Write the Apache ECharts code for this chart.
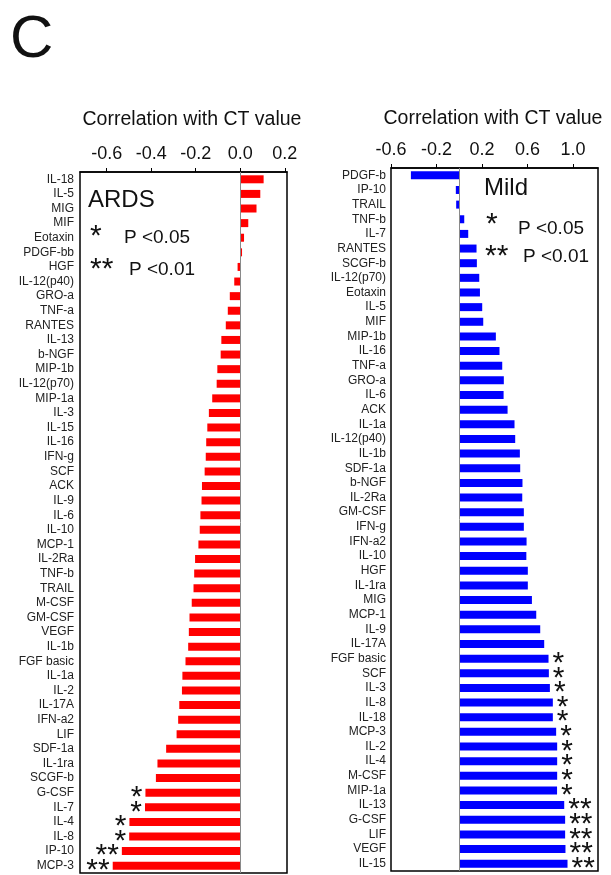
<!DOCTYPE html>
<html><head><meta charset="utf-8">
<script src="https://cdn.jsdelivr.net/npm/echarts@6/dist/echarts.min.js"></script>
<style>html,body{margin:0;padding:0;background:#fff}#c{width:611px;height:875px}</style>
</head><body><div id="c"></div>
<script>
const FONT = '"Liberation Sans", Arial, Helvetica, sans-serif';

const ardsCats = ['IL-18','IL-5','MIG','MIF','Eotaxin','PDGF-bb','HGF','IL-12(p40)','GRO-a','TNF-a','RANTES','IL-13','b-NGF','MIP-1b','IL-12(p70)','MIP-1a','IL-3','IL-15','IL-16','IFN-g','SCF','ACK','IL-9','IL-6','IL-10','MCP-1','IL-2Ra','TNF-b','TRAIL','M-CSF','GM-CSF','VEGF','IL-1b','FGF basic','IL-1a','IL-2','IL-17A','IFN-a2','LIF','SDF-1a','IL-1ra','SCGF-b','G-CSF','IL-7','IL-4','IL-8','IP-10','MCP-3'];
const ardsVals = [0.105,0.09,0.073,0.036,0.017,0.008,-0.012,-0.027,-0.047,-0.056,-0.065,-0.085,-0.088,-0.103,-0.106,-0.126,-0.141,-0.148,-0.153,-0.155,-0.16,-0.172,-0.174,-0.179,-0.182,-0.188,-0.203,-0.207,-0.21,-0.218,-0.228,-0.231,-0.234,-0.246,-0.26,-0.262,-0.274,-0.279,-0.286,-0.333,-0.372,-0.379,-0.426,-0.428,-0.498,-0.499,-0.532,-0.573];
const ardsSig = ['','','','','','','','','','','','','','','','','','','','','','','','','','','','','','','','','','','','','','','','','','','*','*','*','*','**','**'];

const mildCats = ['PDGF-b','IP-10','TRAIL','TNF-b','IL-7','RANTES','SCGF-b','IL-12(p70)','Eotaxin','IL-5','MIF','MIP-1b','IL-16','TNF-a','GRO-a','IL-6','ACK','IL-1a','IL-12(p40)','IL-1b','SDF-1a','b-NGF','IL-2Ra','GM-CSF','IFN-g','IFN-a2','IL-10','HGF','IL-1ra','MIG','MCP-1','IL-9','IL-17A','FGF basic','SCF','IL-3','IL-8','IL-18','MCP-3','IL-2','IL-4','M-CSF','MIP-1a','IL-13','G-CSF','LIF','VEGF','IL-15'];
const mildVals = [-0.425,-0.03,-0.027,0.044,0.079,0.152,0.155,0.176,0.182,0.202,0.211,0.322,0.354,0.378,0.392,0.39,0.425,0.486,0.492,0.533,0.536,0.556,0.554,0.568,0.568,0.592,0.59,0.603,0.603,0.639,0.677,0.712,0.747,0.785,0.788,0.797,0.823,0.823,0.852,0.861,0.861,0.861,0.86,0.923,0.931,0.931,0.934,0.952];
const mildSig = ['','','','','','','','','','','','','','','','','','','','','','','','','','','','','','','','','','*','*','*','*','*','*','*','*','*','*','**','**','**','**','**'];

const ardsTicks = [-0.6,-0.4,-0.2,0.0,0.2];
const mildTicks = [-0.6,-0.2,0.2,0.6,1.0];

const chart = echarts.init(document.getElementById('c'), null, {renderer:'canvas'});

function xAx(gi, min, max, ticks){
  return {
    gridIndex: gi, type:'value', position:'top', min:min, max:max,
    axisLine:{show:true, lineStyle:{color:'#000', width:1.5}},
    axisTick:{show:true, inside:false, length:4, lineStyle:{color:'#000', width:1}, customValues: ticks},
    axisLabel:{show:true, customValues: ticks, margin:9, color:'#111', fontSize:18, fontFamily:FONT,
      formatter: v => (Math.abs(v) < 1e-9 ? 0 : v).toFixed(1)},
    splitLine:{show:false}
  };
}
function yAx(gi, cats, margin){
  return {
    gridIndex: gi, type:'category', data:cats, inverse:true,
    axisLine:{show:false}, axisTick:{show:false},
    axisLabel:{color:'#222', fontSize:12, fontFamily:FONT, margin:margin, interval:0}
  };
}
function starLabel(sig, pos, dist){
  return {
    show:true, position:pos, distance:dist, offset:[0,5],
    formatter: p => sig[p.dataIndex],
    color:'#111', fontSize:30, fontFamily:FONT
  };
}

chart.setOption({
  animation:false,
  grid:[
    {left:80, top:172, width:207, height:701, show:true, borderColor:'#000', borderWidth:1.5, backgroundColor:'#fff'},
    {left:391, top:168, width:207, height:703, show:true, borderColor:'#000', borderWidth:1.5, backgroundColor:'#fff'}
  ],
  xAxis:[ xAx(0, -0.72, 0.21, ardsTicks), xAx(1, -0.6, 1.22, mildTicks) ],
  yAxis:[ yAx(0, ardsCats, 6), yAx(1, mildCats, 5) ],
  series:[
    {type:'bar', xAxisIndex:0, yAxisIndex:0, data:ardsVals, barWidth:8,
     itemStyle:{color:'#ff0000'}, label: starLabel(ardsSig, 'left', 3),
     markLine:{silent:true, symbol:'none', label:{show:false}, lineStyle:{color:'#8a8a8a', width:1, type:'solid'}, data:[{xAxis:0}]}},
    {type:'bar', xAxisIndex:1, yAxisIndex:1, data:mildVals, barWidth:8,
     itemStyle:{color:'#0000ff'}, label: starLabel(mildSig, 'right', 4),
     markLine:{silent:true, symbol:'none', label:{show:false}, lineStyle:{color:'#8a8a8a', width:1, type:'solid'}, data:[{xAxis:0}]}}
  ],
  graphic:[
    {type:'text', left:10, top:10, style:{text:'C', font:'60px '+FONT, fill:'#111'}},
    {type:'text', x:192, y:120, style:{text:'Correlation with CT value', font:'19.5px '+FONT, fill:'#111', align:'center', verticalAlign:'middle'}},
    {type:'text', x:493, y:119, style:{text:'Correlation with CT value', font:'19.5px '+FONT, fill:'#111', align:'center', verticalAlign:'middle'}},
    {type:'text', x:88, y:200, z:10, style:{text:'ARDS', font:'24px '+FONT, fill:'#111', verticalAlign:'middle'}},
    {type:'text', x:90, y:237, z:10, style:{text:'*', font:'30px '+FONT, fill:'#111', verticalAlign:'middle'}},
    {type:'text', x:124, y:238, z:10, style:{text:'P <0.05', font:'19px '+FONT, fill:'#111', verticalAlign:'middle'}},
    {type:'text', x:90, y:270, z:10, style:{text:'**', font:'30px '+FONT, fill:'#111', verticalAlign:'middle'}},
    {type:'text', x:129, y:270, z:10, style:{text:'P <0.01', font:'19px '+FONT, fill:'#111', verticalAlign:'middle'}},
    {type:'text', x:484, y:188, z:10, style:{text:'Mild', font:'24px '+FONT, fill:'#111', verticalAlign:'middle'}},
    {type:'text', x:486, y:225, z:10, style:{text:'*', font:'30px '+FONT, fill:'#111', verticalAlign:'middle'}},
    {type:'text', x:518, y:229, z:10, style:{text:'P <0.05', font:'19px '+FONT, fill:'#111', verticalAlign:'middle'}},
    {type:'text', x:485, y:257, z:10, style:{text:'**', font:'30px '+FONT, fill:'#111', verticalAlign:'middle'}},
    {type:'text', x:523, y:257, z:10, style:{text:'P <0.01', font:'19px '+FONT, fill:'#111', verticalAlign:'middle'}}
  ]
});
</script></body></html>
